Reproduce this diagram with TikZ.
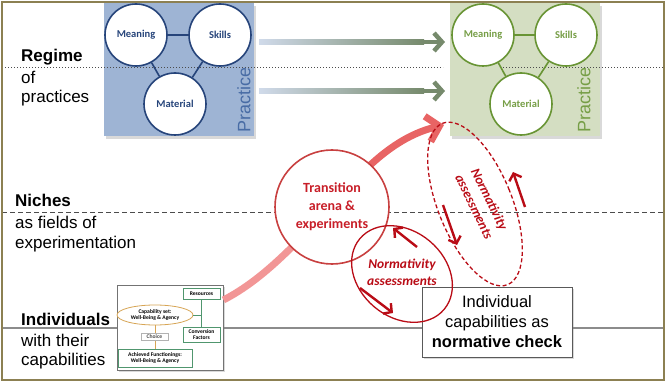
\documentclass[tikz,border=0pt]{standalone}
\usepackage{fontspec}
\setmainfont{Liberation Sans}
\newfontfamily\calibri{Carlito}
\usetikzlibrary{positioning,arrows.meta,shadows,shapes.geometric}

\definecolor{regimeblue}{RGB}{158,180,212}
\definecolor{regimeblueline}{RGB}{38,68,122}
\definecolor{regimebluetext}{RGB}{72,108,165}
\definecolor{regimegreen}{RGB}{212,222,194}
\definecolor{regimegreenline}{RGB}{104,148,52}
\definecolor{regimegreentext}{RGB}{118,158,70}
\definecolor{arrowgreen}{RGB}{118,138,108}
\definecolor{arrowblue}{RGB}{208,218,234}
\definecolor{nichered}{RGB}{232,100,100}
\definecolor{nichepink}{RGB}{242,150,150}
\definecolor{arenared}{RGB}{200,64,64}
\definecolor{arenatext}{RGB}{200,30,40}
\definecolor{normred}{RGB}{185,12,22}
\definecolor{frameolive}{RGB}{140,128,82}
\definecolor{capgreen}{RGB}{80,150,110}
\definecolor{capgold}{RGB}{215,165,85}

\begin{document}
\begin{tikzpicture}[x=1pt, y=-1pt,
    practicebox/.style={minimum width=150pt, minimum height=133pt, inner sep=0pt,
        drop shadow={opacity=0.3, shadow xshift=2pt, shadow yshift=-3pt}},
    element/.style={circle, minimum size=62pt, inner sep=0pt, fill=white, line width=1.6pt,
        font=\calibri\bfseries\fontsize{10.5}{12}\selectfont},
    practicelabel/.style={rotate=90, inner sep=0pt, font=\fontsize{18}{20}\selectfont},
    levelhead/.style={anchor=base west, inner sep=0pt, font=\bfseries\fontsize{17}{20}\selectfont},
    leveltext/.style={anchor=base west, inner sep=0pt, font=\fontsize{17}{20}\selectfont},
    regimearrow/.style={line width=4.5pt, draw=arrowgreen, -{Straight Barb[length=8pt,width=18pt]}},
    nichearrow/.style={line width=7pt, draw=nichered, -{Straight Barb[length=12pt,width=26pt]}},
    arena/.style={circle, minimum size=114pt, inner sep=0pt, draw=arenared, line width=1.6pt,
        fill=white, align=center, text=arenatext, font=\calibri\bfseries\fontsize{14}{18}\selectfont},
    normloop/.style={ellipse, inner sep=0pt, draw=normred, line width=1.3pt},
    normtext/.style={align=center, inner sep=0pt, text=normred,
        font=\calibri\bfseries\itshape\fontsize{13.5}{17}\selectfont},
    normarrow/.style={line width=2.4pt, draw=normred, -{Straight Barb[length=6pt,width=13pt]}},
    checkbox/.style={draw=black!65, line width=1pt, fill=white, minimum width=150pt, minimum height=70pt,
        align=center, font=\fontsize{16.5}{20}\selectfont,
        drop shadow={opacity=0.3, shadow xshift=2pt, shadow yshift=-2pt}},
    capbox/.style={draw=black!55, line width=1pt, fill=white, minimum width=106pt, minimum height=85pt,
        drop shadow={opacity=0.3, shadow xshift=2pt, shadow yshift=-2pt}},
    capitem/.style={draw=capgreen, line width=0.8pt, fill=white, inner sep=0pt, align=center,
        font=\calibri\bfseries\fontsize{5.6}{6.2}\selectfont}]

    \useasboundingbox (0,0) rectangle (666,382);

    % level lines
    \draw[black!70, dash pattern=on 5pt off 3pt, line width=1pt] (2,212) -- (664,212);
    \draw[black!45, line width=1.5pt] (2,328) -- (664,328);

    % niche arrow into the regime
    \node[capbox] (capbox) at (170,327.5) {};
    \coordinate (arenacentre) at (332,207);
    \coordinate (regimeentry) at (444,125);
    \draw[nichearrow, draw=nichepink, -] (capbox) .. controls (266,278) and (297,241) .. (arenacentre);
    \draw[nichearrow] (arenacentre) .. controls (361,171) and (394,137) .. (regimeentry);

    % practices
    \node[practicebox, fill=regimeblue] (bluepractice) at (179,69.5) {};
    \node[practicebox, fill=regimegreen] (greenpractice) at (525,69.5) {};
    \draw[black!70, dotted, line width=1pt] (2,68) -- (443,68);
    \draw[black!70, dotted, line width=1pt] (500,68) -- (664,68);

    \node[element, draw=regimeblueline, text=regimeblueline] (bluemeaning) at (136,35) {Meaning};
    \node[element, draw=regimeblueline, text=regimeblueline] (blueskills) at (220,35) {Skills};
    \node[element, draw=regimeblueline, text=regimeblueline] (bluematerial) at (175,104) {Material};
    \path[draw=regimeblueline, line width=1.6pt]
        (bluemeaning) -- (blueskills)
        (bluemeaning) -- (bluematerial)
        (blueskills) -- (bluematerial);
    \node[practicelabel, text=regimebluetext] (bluelabel) at (244,100) {Practice};

    \node[element, draw=regimegreenline, text=regimegreentext] (greenmeaning) at (483,35) {Meaning};
    \node[element, draw=regimegreenline, text=regimegreentext] (greenskills) at (566,35) {Skills};
    \node[element, draw=regimegreenline, text=regimegreentext] (greenmaterial) at (521,104) {Material};
    \path[draw=regimegreenline, line width=1.6pt]
        (greenmeaning) -- (greenskills)
        (greenmeaning) -- (greenmaterial)
        (greenskills) -- (greenmaterial);
    \node[practicelabel, text=regimegreentext] (greenlabel) at (584,100) {Practice};

    % regime change arrows
    \coordinate (blueout1) at (259,42);
    \coordinate (greenin1) at (445,42);
    \coordinate (blueout2) at (259,91);
    \coordinate (greenin2) at (445,91);
    \draw[regimearrow] (blueout1) -- (greenin1);
    \draw[regimearrow] (blueout2) -- (greenin2);
    \shade[left color=arrowblue, right color=arrowgreen] (259,39.75) rectangle (424,44.25);
    \shade[left color=arrowblue, right color=arrowgreen] (259,88.75) rectangle (424,93.25);

    % transition arena
    \node[arena] (arena) at (arenacentre) {Transition\\arena \&\\experiments};

    % individual check
    \node[checkbox] (check) at (497,322) {Individual\\capabilities as\\\textbf{normative check}};

    % normativity loops
    \node[normloop, dash pattern=on 4pt off 2.5pt, minimum width=74pt, minimum height=174pt, rotate=22]
        (regimeloop) at (475,204) {};
    \node[normtext, rotate=-64] (regimenote) at (482,203) {Normativity\\assessments};
    \coordinate (regimedown1) at (443,205);
    \coordinate (regimedown2) at (457,245);
    \coordinate (regimeup1) at (525,207);
    \coordinate (regimeup2) at (513,172);
    \draw[normarrow] (regimedown1) -- (regimedown2);
    \draw[normarrow] (regimeup1) -- (regimeup2);

    \node[normloop, minimum width=110pt, minimum height=86pt, rotate=-40] (nicheloop) at (402,274) {};
    \node[normtext] (nichenote) at (402,272) {Normativity\\assessments};
    \coordinate (nicheup1) at (417,247);
    \coordinate (nicheup2) at (393,228);
    \coordinate (nichedown1) at (360,288);
    \coordinate (nichedown2) at (393,313);
    \draw[normarrow] (nicheup1) -- (nicheup2);
    \draw[normarrow] (nichedown1) -- (nichedown2);

    % capability set
    \node[capitem, minimum width=37pt, minimum height=11pt] (resources) at (201.5,293.5) {Resources};
    \node[capitem, minimum width=37pt, minimum height=15pt] (conversion) at (201.5,334.5) {Conversion\\Factors};
    \node[capitem, ellipse, draw=capgold, minimum width=76pt, minimum height=20pt] (capset) at (155,315)
        {Capability set:\\Well-Being \& Agency};
    \node[capitem, minimum width=74pt, minimum height=18pt] (achieved) at (155,358)
        {Achieved Functionings:\\Well-Being \& Agency};
    \draw[capgreen, line width=0.8pt] (resources) -- (conversion);
    \draw[capgreen, line width=0.8pt] (capset.east) -- (capset.east -| resources);
    \draw[capgold, line width=0.8pt] (capset) -- (achieved);
    \node[capitem, draw=black!30, minimum width=27pt, minimum height=7pt, text=black!70] (choice)
        at (154.5,336.5) {Choice};

    % levels
    \node[levelhead] (regime) at (21,62) {Regime};
    \node[leveltext] (regimeof) at (21,84) {of};
    \node[leveltext] (regimepractices) at (21,103) {practices};
    \node[levelhead] (niches) at (15,207) {Niches};
    \node[leveltext] (nichesfields) at (15,228) {as fields of};
    \node[leveltext] (nichesexp) at (15,248) {experimentation};
    \node[levelhead] (individuals) at (21,325) {Individuals};
    \node[leveltext] (individualswith) at (21,346) {with their};
    \node[leveltext] (individualscap) at (21,365) {capabilities};

    \draw[frameolive, line width=2pt] (2,2) rectangle (664,380);
\end{tikzpicture}
\end{document}
